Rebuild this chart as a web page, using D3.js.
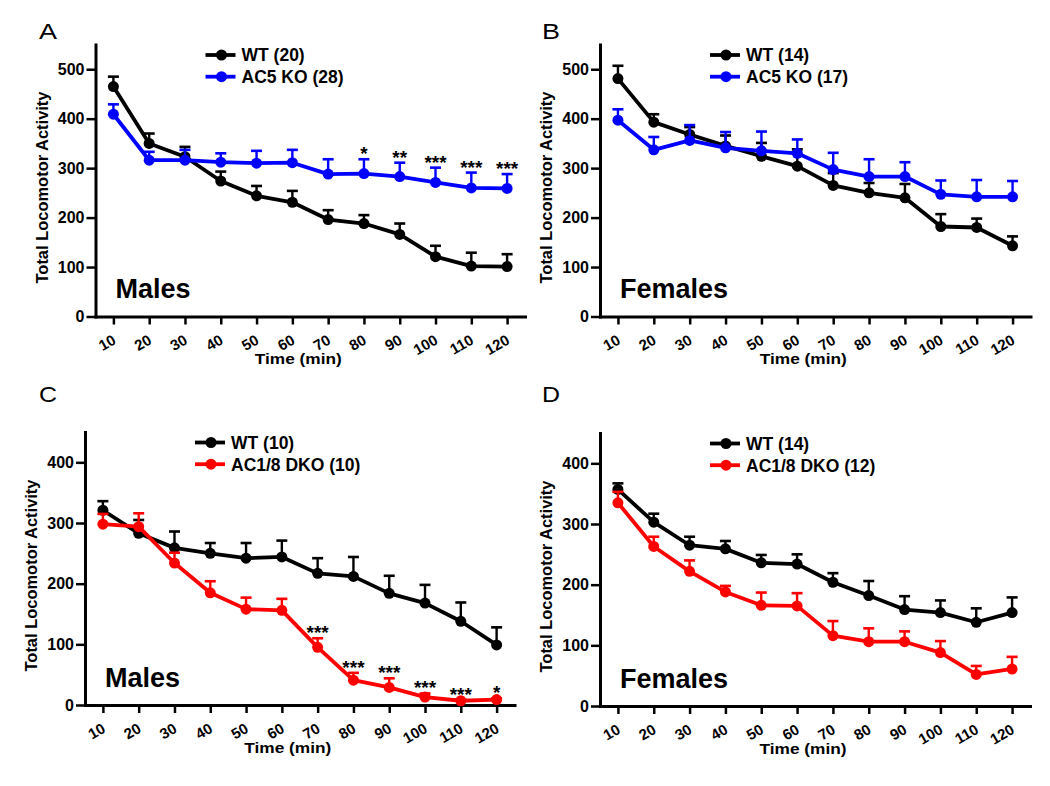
<!DOCTYPE html>
<html><head><meta charset="utf-8">
<script src="https://cdn.jsdelivr.net/npm/d3@7"></script>
<style>body{margin:0;background:#fff}</style>
</head><body><svg id="c" width="1050" height="786" style="display:block;background:#fff"></svg>
<script>
// ---------- data ----------
const times = [10, 20, 30, 40, 50, 60, 70, 80, 90, 100, 110, 120];
const yTicksTop = [0, 100, 200, 300, 400, 500];
const yTicksBottom = [0, 100, 200, 300, 400];

// Panel A: Males, WT (20) vs AC5 KO (28)
const aWT = [465, 350, 323, 274, 244, 231, 196, 188, 166, 121, 102, 101];
const aWTErr = [20, 20, 20, 19, 20, 23, 19, 17, 22, 22, 27, 25];
const aKO = [409, 316, 316, 312, 310, 311, 288, 289, 283, 271, 260, 259];
const aKOErr = [20, 17, 21, 18, 25, 26, 30, 29, 28, 30, 31, 29];
const aStars = ["", "", "", "", "", "", "", "*", "**", "***", "***", "***"];

// Panel B: Females, WT (14) vs AC5 KO (17)
const bWT = [481, 393, 368, 345, 324, 304, 265, 250, 240, 182, 180, 143];
const bWTErr = [26, 16, 15, 21, 27, 34, 25, 20, 28, 25, 18, 19];
const bKO = [397, 337, 356, 341, 335, 330, 297, 283, 283, 247, 242, 242];
const bKOErr = [22, 26, 31, 32, 39, 28, 34, 35, 29, 28, 34, 32];
const bStars = ["", "", "", "", "", "", "", "", "", "", "", ""];

// Panel C: Males, WT (10) vs AC1/8 DKO (10)
const cWT = [321, 283, 259, 250, 242, 244, 217, 212, 184, 168, 138, 99];
const cWTErr = [15, 22, 27, 17, 25, 27, 25, 32, 29, 30, 31, 29];
const cKO = [298, 294, 234, 185, 158, 156, 95, 41, 29, 13, 7, 9];
const cKOErr = [17, 22, 17, 19, 19, 19, 15, 12, 15, 6, 2, 2];
const cStars = ["", "", "", "", "", "", "***", "***", "***", "***", "***", "*"];

// Panel D: Females, WT (14) vs AC1/8 DKO (12)
const dWT = [357, 303, 265, 259, 236, 234, 204, 182, 159, 154, 138, 154];
const dWTErr = [10, 14, 14, 13, 13, 16, 15, 24, 22, 20, 23, 25];
const dKO = [335, 263, 222, 188, 166, 165, 116, 106, 106, 88, 52, 61];
const dKOErr = [18, 16, 18, 10, 21, 21, 24, 22, 17, 19, 14, 20];
const dStars = ["", "", "", "", "", "", "", "", "", "", "", ""];

const BLACK = "#000000", BLUE = "#0000ff", RED = "#ff0000";
const FONT = "'Liberation Sans', Arial, Helvetica, sans-serif";

// ---------- layout ----------
const panels = [
  { letter: "A", lx: 39, ly: 39, x0: 95.5, x1: 525, yb: 316.5, yt: 44.5, ymax: 550, yTicks: yTicksTop,
    series: [{ name: "WT (20)", color: BLACK, mean: aWT, err: aWTErr },
             { name: "AC5 KO (28)", color: BLUE, mean: aKO, err: aKOErr }],
    stars: aStars, starIdx: 1, sex: "Males" },
  { letter: "B", lx: 542, ly: 39, x0: 600, x1: 1030.5, yb: 316.5, yt: 44.5, ymax: 550, yTicks: yTicksTop,
    series: [{ name: "WT (14)", color: BLACK, mean: bWT, err: bWTErr },
             { name: "AC5 KO (17)", color: BLUE, mean: bKO, err: bKOErr }],
    stars: bStars, starIdx: 1, sex: "Females" },
  { letter: "C", lx: 39, ly: 402, x0: 85, x1: 514.5, yb: 705, yt: 432, ymax: 450, yTicks: yTicksBottom,
    series: [{ name: "WT (10)", color: BLACK, mean: cWT, err: cWTErr },
             { name: "AC1/8 DKO (10)", color: RED, mean: cKO, err: cKOErr }],
    stars: cStars, starIdx: 1, sex: "Males" },
  { letter: "D", lx: 542, ly: 402, x0: 600, x1: 1030, yb: 706, yt: 433, ymax: 450, yTicks: yTicksBottom,
    series: [{ name: "WT (14)", color: BLACK, mean: dWT, err: dWTErr },
             { name: "AC1/8 DKO (12)", color: RED, mean: dKO, err: dKOErr }],
    stars: dStars, starIdx: 1, sex: "Females" }
];

const svg = d3.select("#c");

panels.forEach(p => {
  const x = d3.scaleLinear().domain([5, 125]).range([p.x0, p.x1]);
  const y = d3.scaleLinear().domain([0, p.ymax]).range([p.yb, p.yt]);
  const g = svg.append("g");

  // panel letter
  g.append("text").attr("x", p.lx).attr("y", p.ly).text(p.letter)
    .attr("font-family", FONT).attr("font-size", 22).attr("fill", "#000")
    .attr("textLength", 18).attr("lengthAdjust", "spacingAndGlyphs");

  // y axis
  const ya = g.append("g").attr("transform", `translate(${p.x0},0)`)
    .call(d3.axisLeft(y).tickValues(p.yTicks).tickSize(9).tickSizeOuter(0).tickPadding(2));
  ya.select(".domain").attr("stroke", "#000").attr("stroke-width", 3).attr("stroke-linecap", "square");
  ya.selectAll(".tick line").attr("stroke", "#000").attr("stroke-width", 2.5);
  ya.selectAll(".tick text").attr("font-family", FONT).attr("font-size", 16)
    .attr("font-weight", "bold").attr("fill", "#000");

  // x axis
  const xa = g.append("g").attr("transform", `translate(0,${p.yb})`)
    .call(d3.axisBottom(x).tickValues(times).tickSize(8).tickSizeOuter(0));
  xa.select(".domain").attr("stroke", "#000").attr("stroke-width", 3).attr("stroke-linecap", "square");
  xa.selectAll(".tick line").attr("stroke", "#000").attr("stroke-width", 2.5);
  xa.selectAll(".tick text").attr("x", 0).attr("y", 0).attr("dy", 0)
    .attr("text-anchor", "end").attr("transform", "translate(3,26.5) rotate(-30)")
    .attr("font-family", FONT).attr("font-size", 15).attr("font-weight", "bold").attr("fill", "#000");

  // axis titles
  g.append("text").attr("x", (p.x0 + p.x1) / 2 - 12).attr("y", p.yb + 47.5)
    .attr("text-anchor", "middle").text("Time (min)")
    .attr("font-family", FONT).attr("font-size", 15.5).attr("font-weight", "bold")
    .attr("textLength", 87).attr("lengthAdjust", "spacingAndGlyphs");
  const yc = (p.yb + p.yt) / 2 + 7;
  g.append("text").attr("transform", `translate(${p.x0 - 48},${yc}) rotate(-90)`)
    .attr("text-anchor", "middle").text("Total Locomotor Activity")
    .attr("font-family", FONT).attr("font-size", 16.5).attr("font-weight", "bold")
    .attr("textLength", 192).attr("lengthAdjust", "spacingAndGlyphs");

  // series
  const line = d3.line().x((d, i) => x(times[i])).y(d => y(d));
  p.series.forEach(s => {
    const sg = g.append("g");
    sg.selectAll("line.eb").data(s.mean).enter().append("line")
      .attr("x1", (d, i) => x(times[i])).attr("x2", (d, i) => x(times[i]))
      .attr("y1", d => y(d)).attr("y2", (d, i) => y(d + s.err[i]))
      .attr("stroke", s.color).attr("stroke-width", 2.4);
    sg.selectAll("line.cap").data(s.mean).enter().append("line")
      .attr("x1", (d, i) => x(times[i]) - 5.5).attr("x2", (d, i) => x(times[i]) + 5.5)
      .attr("y1", (d, i) => y(d + s.err[i])).attr("y2", (d, i) => y(d + s.err[i]))
      .attr("stroke", s.color).attr("stroke-width", 2.6);
    sg.append("path").datum(s.mean).attr("d", line).attr("fill", "none")
      .attr("stroke", s.color).attr("stroke-width", 3.8).attr("stroke-linejoin", "round");
    sg.selectAll("circle").data(s.mean).enter().append("circle")
      .attr("cx", (d, i) => x(times[i])).attr("cy", d => y(d)).attr("r", 5.5)
      .attr("fill", s.color);
  });

  // significance stars
  const ss = p.series[p.starIdx];
  g.selectAll("text.star").data(p.stars).enter().append("text")
    .attr("x", (d, i) => x(times[i])).attr("y", (d, i) => y(ss.mean[i] + ss.err[i]) + 1)
    .attr("text-anchor", "middle").text(d => d)
    .attr("font-family", FONT).attr("font-size", 19).attr("font-weight", "bold").attr("fill", "#000");

  // legend
  p.series.forEach((s, j) => {
    const ly = p.yt + 10.5 + j * 21.7;
    g.append("line").attr("x1", p.x0 + 110).attr("x2", p.x0 + 140).attr("y1", ly).attr("y2", ly)
      .attr("stroke", s.color).attr("stroke-width", 3.8);
    g.append("circle").attr("cx", p.x0 + 126).attr("cy", ly).attr("r", 5.5).attr("fill", s.color);
    g.append("text").attr("x", p.x0 + 146).attr("y", ly + 6.3).text(s.name)
      .attr("font-family", FONT).attr("font-size", 17.5).attr("font-weight", "bold").attr("fill", "#000");
  });

  // sex label
  g.append("text").attr("x", p.x0 + 20).attr("y", p.yb - 18.5).text(p.sex)
    .attr("font-family", FONT).attr("font-size", 27).attr("font-weight", "bold").attr("fill", "#000");
});
</script>
</body></html>
